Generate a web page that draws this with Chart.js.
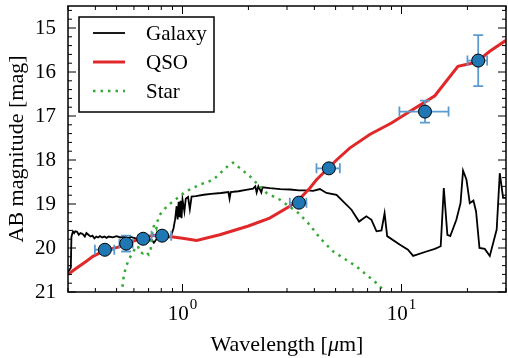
<!DOCTYPE html>
<html>
<head>
<meta charset="utf-8">
<script src="https://cdn.jsdelivr.net/npm/chart.js@4.4.1/dist/chart.umd.min.js"></script>
<style>
  html, body { margin: 0; padding: 0; background: #fff; overflow: hidden; }
  canvas { display: block; }
</style>
</head>
<body>
<canvas id="sed" width="508" height="358"></canvas>
<script>
// template spectra: wavelength [um] and AB magnitude
const galaxyWl = [0.300, 0.309, 0.311, 0.316, 0.320, 0.324, 0.330, 0.336, 0.342, 0.350, 0.358, 0.364, 0.372, 0.380, 0.388, 0.396, 0.404, 0.412, 0.420, 0.430, 0.440, 0.450, 0.460, 0.480, 0.500, 0.520, 0.540, 0.560, 0.580, 0.600, 0.620, 0.640, 0.660, 0.680, 0.700, 0.720, 0.740, 0.760, 0.780, 0.800, 0.840, 0.870, 0.890, 0.910, 0.925, 0.940, 0.950, 0.960, 0.970, 0.980, 0.990, 1.000, 1.020, 1.035, 1.060, 1.080, 1.100, 1.150, 1.250, 1.350, 1.500, 1.620, 1.640, 1.660, 1.800, 1.950, 2.100, 2.150, 2.180, 2.220, 2.290, 2.320, 2.500, 2.800, 3.100, 3.400, 3.700, 3.950, 4.240, 4.540, 5.050, 5.410, 5.910, 6.400, 6.910, 7.290, 7.690, 8.100, 8.370, 8.600, 9.800, 10.70, 11.30, 13.00, 14.20, 15.10, 15.60, 16.20, 16.70, 17.80, 18.60, 19.10, 19.80, 20.50, 21.30, 21.90, 22.70, 24.00, 25.30, 27.20, 28.10, 29.10, 30.00];
const galaxyMag = [20.55, 20.45, 19.75, 19.62, 19.66, 19.62, 19.63, 19.70, 19.66, 19.68, 19.74, 19.66, 19.70, 19.74, 19.72, 19.78, 19.74, 19.76, 19.73, 19.76, 19.74, 19.77, 19.74, 19.76, 19.73, 19.76, 19.74, 19.78, 19.75, 19.77, 19.79, 19.77, 19.80, 19.78, 19.84, 19.80, 19.88, 19.80, 19.79, 19.78, 19.76, 19.76, 19.70, 19.55, 19.35, 19.05, 19.35, 18.95, 19.30, 18.93, 19.32, 18.90, 19.17, 18.88, 18.84, 19.12, 18.83, 18.82, 18.79, 18.77, 18.75, 18.73, 18.88, 18.73, 18.71, 18.68, 18.65, 18.60, 18.74, 18.60, 18.74, 18.62, 18.64, 18.66, 18.67, 18.69, 18.69, 18.70, 18.66, 18.75, 18.79, 18.94, 19.13, 19.40, 19.28, 19.36, 19.62, 19.60, 19.21, 19.73, 19.92, 20.04, 20.18, 20.08, 20.02, 19.96, 18.64, 19.70, 19.73, 19.36, 18.98, 18.24, 18.45, 18.98, 18.92, 19.17, 20.00, 20.02, 20.18, 19.58, 18.30, 18.86, 18.86];

const qsoWl = [0.30, 0.33, 0.364, 0.39, 0.44, 0.508, 0.55, 0.617, 0.66, 0.722, 0.80, 0.906, 1.0, 1.16, 1.48, 2.0, 2.5, 3.09, 3.4, 3.81, 4.09, 4.6, 5.05, 5.8, 7.16, 9.0, 10.9, 14.2, 16.0, 18.1, 21.9, 25.3, 30.0];
const qsoMag = [20.60, 20.45, 20.30, 20.19, 20.06, 19.98, 19.90, 19.82, 19.77, 19.72, 19.71, 19.75, 19.78, 19.83, 19.70, 19.50, 19.32, 19.05, 18.90, 18.64, 18.45, 18.20, 18.00, 17.73, 17.42, 17.16, 16.90, 16.54, 16.21, 15.87, 15.78, 15.53, 15.28];

const starWl = [0.527, 0.537, 0.550, 0.570, 0.590, 0.610, 0.625, 0.640, 0.660, 0.680, 0.700, 0.715, 0.730, 0.745, 0.760, 0.775, 0.800, 0.850, 0.906, 1.04, 1.20, 1.38, 1.64, 1.70, 2.03, 2.42, 2.78, 3.37, 3.74, 4.31, 4.88, 6.23, 7.82, 8.60];
const starMag = [21.05, 20.70, 20.45, 20.25, 20.12, 20.00, 19.95, 20.10, 20.12, 20.08, 20.15, 20.05, 19.60, 19.45, 19.55, 19.30, 19.20, 19.05, 18.94, 18.71, 18.56, 18.45, 18.10, 18.06, 18.37, 18.75, 18.90, 19.20, 19.43, 19.81, 20.08, 20.42, 20.83, 21.05];

// photometry with band widths and magnitude errors
const obsWl = [0.442, 0.553, 0.661, 0.807, 3.40, 4.66, 12.8, 22.4];
const obsWlLo = [0.398, 0.515, 0.630, 0.722, 3.09, 4.09, 9.78, 20.0];
const obsWlHi = [0.488, 0.592, 0.690, 0.888, 3.68, 5.23, 16.4, 24.6];
const obsMag = [20.04, 19.90, 19.79, 19.72, 18.97, 18.19, 16.90, 15.74];
const obsMagErr = [0.05, 0.18, 0.05, 0.07, 0.05, 0.06, 0.25, 0.58];

const yTicks = [15, 16, 17, 18, 19, 20, 21];
const xMajor = [1, 10];
const xMinor = [0.3, 0.4, 0.5, 0.6, 0.7, 0.8, 0.9, 2, 3, 4, 5, 6, 7, 8, 9, 20, 30];

const serif = '"Liberation Serif", "DejaVu Serif", serif';
const errColor = '#5b9bd0';

const toXY = (wl, mag) => wl.map((w, i) => ({ x: w, y: mag[i] }));

const noPad = s => { s.paddingTop = 0; s.paddingBottom = 0; s.paddingLeft = 0; s.paddingRight = 0; };

// error bars under the markers
const errorBars = {
  id: 'errorBars',
  beforeDatasetDraw(chart, args) {
    if (args.index !== 3) return;
    const { ctx, scales: { x, y } } = chart;
    const cap = 5;
    ctx.save();
    ctx.strokeStyle = errColor;
    ctx.lineWidth = 1.8;
    obsWl.forEach((w, i) => {
      const px = x.getPixelForValue(w);
      const py = y.getPixelForValue(obsMag[i]);
      const x0 = x.getPixelForValue(obsWlLo[i]);
      const x1 = x.getPixelForValue(obsWlHi[i]);
      const y0 = y.getPixelForValue(obsMag[i] - obsMagErr[i]);
      const y1 = y.getPixelForValue(obsMag[i] + obsMagErr[i]);
      ctx.beginPath();
      ctx.moveTo(x0, py); ctx.lineTo(x1, py);
      ctx.moveTo(x0, py - cap); ctx.lineTo(x0, py + cap);
      ctx.moveTo(x1, py - cap); ctx.lineTo(x1, py + cap);
      ctx.moveTo(px, y0); ctx.lineTo(px, y1);
      ctx.moveTo(px - cap, y0); ctx.lineTo(px + cap, y0);
      ctx.moveTo(px - cap, y1); ctx.lineTo(px + cap, y1);
      ctx.stroke();
    });
    ctx.restore();
  }
};

// box, inward ticks, x labels with exponents and x title
const frame = {
  id: 'frame',
  afterDatasetsDraw(chart) {
    const { ctx, chartArea: a, scales: { x, y } } = chart;
    ctx.save();
    ctx.strokeStyle = '#000';
    ctx.lineWidth = 1;
    const tick = (px, py, dx, dy) => { ctx.moveTo(px, py); ctx.lineTo(px + dx, py + dy); };
    ctx.beginPath();
    xMajor.forEach(v => { const p = x.getPixelForValue(v); tick(p, a.bottom, 0, -8); tick(p, a.top, 0, 8); });
    xMinor.forEach(v => { const p = x.getPixelForValue(v); tick(p, a.bottom, 0, -4); tick(p, a.top, 0, 4); });
    for (let m = 14.6; m < 21; m += 0.2) {
      const v = Math.round(m * 10) / 10;
      const p = y.getPixelForValue(v);
      const len = Number.isInteger(v) ? 8 : 4;
      tick(a.left, p, len, 0); tick(a.right, p, -len, 0);
    }
    ctx.stroke();
    ctx.lineWidth = 1.5;
    ctx.strokeRect(a.left, a.top, a.right - a.left, a.bottom - a.top);

    ctx.fillStyle = '#000';
    ctx.textBaseline = 'alphabetic';
    ctx.textAlign = 'left';
    xMajor.forEach(v => {
      const p = x.getPixelForValue(v);
      const sup = String(Math.round(Math.log10(v)));
      ctx.font = '21px ' + serif;
      const wb = ctx.measureText('10').width;
      ctx.font = '15px ' + serif;
      const ws = ctx.measureText(sup).width;
      const left = p - (wb + ws + 1) / 2;
      ctx.font = '21px ' + serif;
      ctx.fillText('10', left, 320);
      ctx.font = '15px ' + serif;
      ctx.fillText(sup, left + wb + 1, 309);
    });

    const parts = [['Wavelength [', ''], ['\u03bc', 'italic '], ['m]', '']];
    let total = 0;
    parts.forEach(([t, st]) => { ctx.font = st + '22px ' + serif; total += ctx.measureText(t).width; });
    let cx = (a.left + a.right) / 2 - total / 2;
    parts.forEach(([t, st]) => {
      ctx.font = st + '22px ' + serif;
      ctx.fillText(t, cx, 351);
      cx += ctx.measureText(t).width;
    });
    ctx.restore();
  }
};

// legend box in the upper left corner
const boxLegend = {
  id: 'boxLegend',
  afterDraw(chart) {
    const { ctx, chartArea: a } = chart;
    const bx = a.left + 11, by = a.top + 11, bw = 135, bh = 95;
    ctx.save();
    ctx.fillStyle = '#fff';
    ctx.fillRect(bx, by, bw, bh);
    ctx.strokeStyle = '#000';
    ctx.lineWidth = 1.5;
    ctx.strokeRect(bx, by, bw, bh);
    ctx.font = '21px ' + serif;
    ctx.textBaseline = 'middle';
    ctx.textAlign = 'left';
    chart.data.datasets.filter(d => d.showLine).forEach((d, i) => {
      const ly = by + 16 + i * 29;
      ctx.beginPath();
      ctx.strokeStyle = d.borderColor;
      ctx.lineWidth = d.borderWidth;
      ctx.setLineDash(d.borderDash || []);
      ctx.moveTo(bx + 14, ly);
      ctx.lineTo(bx + 46, ly);
      ctx.stroke();
      ctx.setLineDash([]);
      ctx.fillStyle = '#000';
      ctx.fillText(d.label, bx + 67, ly + 1);
    });
    ctx.restore();
  }
};

new Chart(document.getElementById('sed'), {
  type: 'scatter',
  data: {
    datasets: [
      { label: 'Galaxy', data: toXY(galaxyWl, galaxyMag), showLine: true, borderColor: '#000', borderWidth: 1.8, pointRadius: 0, order: 3, clip: 0 },
      { label: 'QSO', data: toXY(qsoWl, qsoMag), showLine: true, borderColor: '#e0282a', borderWidth: 3, pointRadius: 0, order: 1, clip: 0 },
      { label: 'Star', data: toXY(starWl, starMag), showLine: true, borderColor: '#35a835', borderWidth: 2.5, borderDash: [2.5, 5], pointRadius: 0, order: 2, clip: 0 },
      { label: 'Observed', data: toXY(obsWl, obsMag), showLine: false, backgroundColor: '#1f77b4', borderColor: '#000', borderWidth: 1, pointRadius: 6.5, order: 0 }
    ]
  },
  options: {
    responsive: false,
    animation: false,
    devicePixelRatio: 1,
    layout: { autoPadding: false, padding: { top: 6, right: 2, left: 0, bottom: 0 } },
    plugins: { legend: { display: false }, tooltip: { enabled: false } },
    scales: {
      x: {
        type: 'logarithmic', min: 0.3, max: 30,
        grid: { display: false }, border: { display: false },
        ticks: { display: false },
        afterBuildTicks: s => { s.ticks = xMajor.map(v => ({ value: v })); },
        afterFit: s => { s.height = 66; noPad(s); }
      },
      y: {
        min: 14.5, max: 21, reverse: true,
        grid: { display: false }, border: { display: false },
        afterBuildTicks: s => { s.ticks = yTicks.map(v => ({ value: v })); },
        ticks: { color: '#000', padding: 4, font: { family: serif, size: 21 } },
        title: { display: true, text: 'AB magnitude [mag]', color: '#000', font: { family: serif, size: 22 }, padding: { top: 4, bottom: 0 } },
        afterFit: s => { s.width = 68; noPad(s); }
      }
    }
  },
  plugins: [errorBars, frame, boxLegend]
});
</script>
</body>
</html>
